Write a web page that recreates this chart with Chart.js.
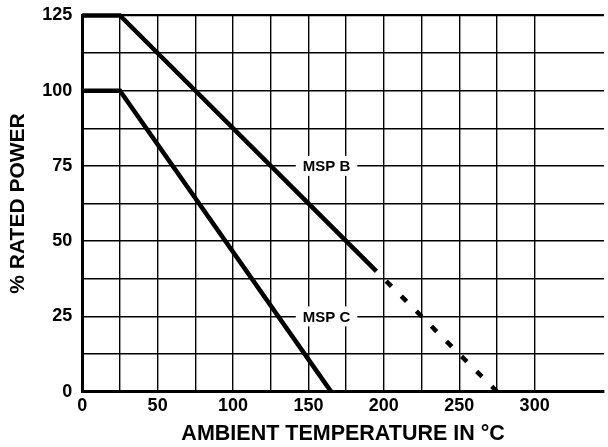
<!DOCTYPE html>
<html>
<head>
<meta charset="utf-8">
<script src="https://cdn.jsdelivr.net/npm/chart.js@4.4.0/dist/chart.umd.min.js"></script>
<style>
    html, body { margin: 0; padding: 0; background: #fff; }
    #wrap { width: 608px; height: 447px; }
</style>
</head>
<body>
<div id="wrap"><canvas id="deratingChart" width="608" height="447"></canvas></div>
<script>
// --- Data ---

const mspCTemps = [0, 25, 165];
const mspCPower = [100, 100, 0];

const mspBTemps = [0, 25, 195];
const mspBPower = [125, 125, 40];

// extrapolated part of MSP B, drawn dashed
const mspBExtTemps = [195, 275];
const mspBExtPower = [40, 0];

const xTickLabels = [0, 50, 100, 150, 200, 250, 300];
const yTickLabels = [0, 25, 50, 75, 100, 125];

const curveLabels = ['MSP B', 'MSP C'];
const curveLabelAt = [[162, 75], [162, 25]];

const FONT = '"Liberation Sans", Arial, Helvetica, sans-serif';

function toPoints(xs, ys) {
    return xs.map((x, i) => ({ x: x, y: ys[i] }));
}

// --- Plugin: white-boxed curve names sitting on the grid ---

const curveNamePlugin = {
    id: 'curveNames',
    afterDatasetsDraw(chart) {
        const ctx = chart.ctx;
        const xs = chart.scales.x;
        const ys = chart.scales.y;
        ctx.save();
        ctx.font = 'bold 15px ' + FONT;
        ctx.textAlign = 'center';
        ctx.textBaseline = 'middle';
        curveLabels.forEach((name, i) => {
            const px = xs.getPixelForValue(curveLabelAt[i][0]);
            const py = ys.getPixelForValue(curveLabelAt[i][1]);
            const w = ctx.measureText(name).width + 14;
            ctx.fillStyle = '#fff';
            ctx.fillRect(px - w / 2, py - 10, w, 20);
            ctx.fillStyle = '#000';
            ctx.fillText(name, px, py + 1);
        });
        ctx.restore();
    }
};

// --- Chart ---

const ctx = document.getElementById('deratingChart').getContext('2d');
new Chart(ctx, {
    type: 'scatter',
    data: {
        datasets: [
            {
                label: 'MSP B',
                data: toPoints(mspBTemps, mspBPower),
                showLine: true,
                borderColor: '#000',
                borderWidth: 4.5,
                pointRadius: 0,
                clip: 8
            },
            {
                label: 'MSP B (ext)',
                data: toPoints(mspBExtTemps, mspBExtPower),
                showLine: true,
                borderColor: '#000',
                borderWidth: 4.5,
                borderDash: [7.5, 13.8],
                borderDashOffset: 7.3,
                borderCapStyle: 'butt',
                pointRadius: 0,
                clip: 8
            },
            {
                label: 'MSP C',
                data: toPoints(mspCTemps, mspCPower),
                showLine: true,
                borderColor: '#000',
                borderWidth: 4.5,
                pointRadius: 0,
                clip: 8
            }
        ]
    },
    options: {
        responsive: false,
        animation: false,
        layout: {
            padding: { top: 0, right: 0, left: 0, bottom: 0 }
        },
        plugins: {
            legend: { display: false },
            tooltip: { enabled: false }
        },
        scales: {
            x: {
                type: 'linear',
                min: 0,
                max: 346,
                border: { display: true, color: '#000', width: 3 },
                grid: {
                    drawTicks: false,
                    color: c => (c.tick && c.tick.value % 25 === 0 && c.tick.value > 0) ? '#000' : 'rgba(0,0,0,0)',
                    lineWidth: 1.4
                },
                ticks: {
                    stepSize: 25,
                    padding: 4,
                    color: '#000',
                    font: { family: FONT, size: 18, weight: 'bold' },
                    maxRotation: 0,
                    autoSkip: false,
                    callback: v => xTickLabels.includes(v) ? String(v) : ''
                },
                title: {
                    display: true,
                    text: 'AMBIENT TEMPERATURE IN °C',
                    color: '#000',
                    font: { family: FONT, size: 21.5, weight: 'bold' },
                    padding: { top: 0, bottom: 0 }
                }
            },
            y: {
                min: 0,
                max: 125,
                border: { display: true, color: '#000', width: 3 },
                grid: {
                    drawTicks: false,
                    color: '#000',
                    lineWidth: c => (c.tick && c.tick.value === 125) ? 2.2 : 1.4
                },
                ticks: {
                    stepSize: 12.5,
                    padding: 10,
                    color: '#000',
                    font: { family: FONT, size: 18, weight: 'bold', lineHeight: 0.6 },
                    autoSkip: false,
                    callback: v => yTickLabels.includes(v) ? String(v) : ''
                },
                title: {
                    display: true,
                    text: '% RATED POWER',
                    color: '#000',
                    font: { family: FONT, size: 21, weight: 'bold' },
                    padding: { top: 6, bottom: 1 }
                }
            }
        }
    },
    plugins: [curveNamePlugin]
});
</script>
</body>
</html>
